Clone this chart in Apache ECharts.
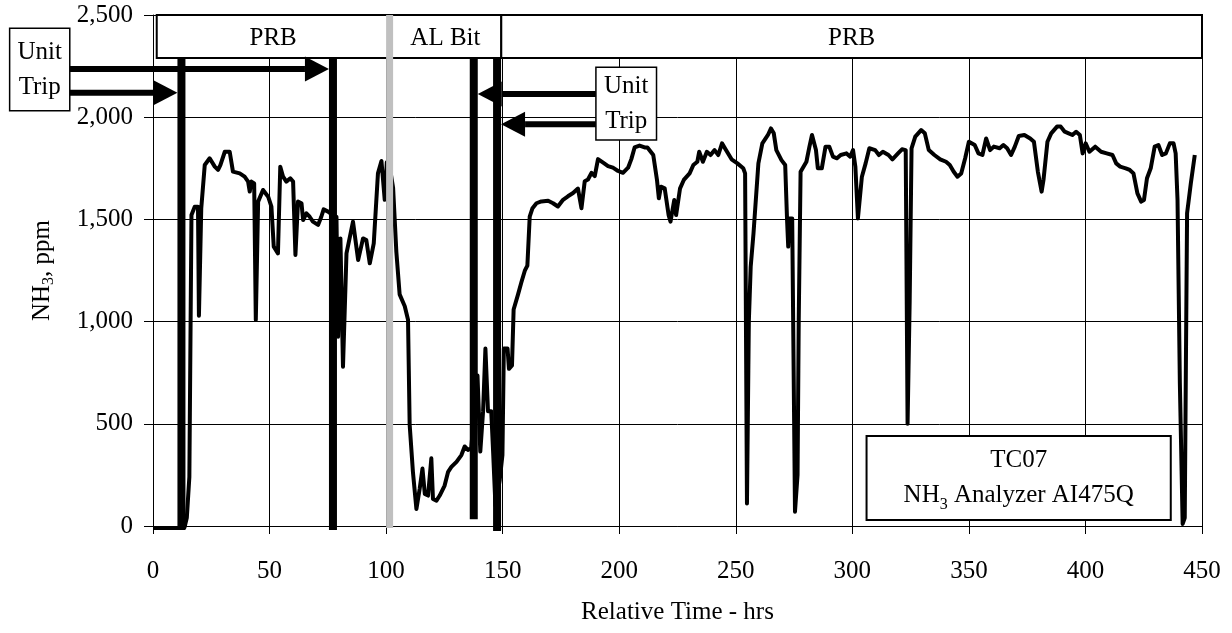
<!DOCTYPE html>
<html>
<head>
<meta charset="utf-8">
<script src="https://cdn.jsdelivr.net/npm/echarts@6/dist/echarts.min.js"></script>
<style>
  html, body { margin: 0; padding: 0; background: #fff; }
  #chart { width: 1232px; height: 633px; }
</style>
</head>
<body>
<div id="chart"></div>
<script>
// NH3 analyzer record, TC07 (hours vs ppm)
const hours = [
  0, 3, 6, 9, 12, 13.5, 14.5, 15.6, 16.5, 17.9, 19.3, 19.7, 20.7, 22.2, 24.3, 26.5, 27.9, 28.9, 30.8, 32.9,
  34.3, 37.2, 39.3, 40.8, 41.5, 42.2, 43.4, 44.1, 45.1, 47.2, 49.4, 50.8, 51.8, 53.6, 54.6, 55.8, 57.2, 58.9, 60.1, 61.1,
  62.2, 63.7, 64.4, 65.8, 67.2, 68.6, 70.8, 72.2, 73.2, 75.1, 77.0, 78.7, 79.4, 80.4, 81.5, 83.0, 85.8, 88.0, 90.1, 91.5,
  93.0, 94.7, 96.5, 98.0, 99.4, 100.3, 101.5, 103.0, 104.4, 105.8, 108.0, 109.4, 110.1, 111.5, 113.0, 114.4, 115.6, 116.6, 118.0, 119.4,
  120.1, 121.6, 123.0, 125.1, 126.6, 128.0, 130.2, 132.3, 133.7, 135.1, 136.5, 139.2, 140.4, 141.6, 142.6, 143.7, 145.1, 145.9, 146.9, 148.7,
  149.9, 150.5, 152.1, 152.7, 154.0, 154.7, 156.6, 158.0, 159.5, 160.6, 161.6, 162.8, 164.5, 166.6, 169.5, 171.6, 173.7, 175.9, 178.0, 180.2,
  182.3, 183.8, 185.2, 186.6, 188.1, 189.5, 190.9, 193.1, 195.2, 197.3, 199.5, 201.6, 203.8, 205.2, 206.6, 208.7, 210.9, 212.1, 214.6, 216.2,
  217.0, 217.9, 219.5, 221.2, 222.0, 223.6, 224.4, 226.1, 227.7, 230.2, 231.8, 233.5, 234.3, 235.9, 237.6, 239.2, 240.9, 242.5, 244.1, 245.8,
  248.2, 250.7, 253.2, 254.0, 254.8, 255.6, 256.4, 257.6, 258.6, 259.7, 261.4, 263.8, 265.1, 266.3, 267.4, 269.6, 271.2, 272.0, 272.5, 273.0,
  274.2, 275.4, 276.5, 277.0, 277.8, 280.3, 281.6, 282.7, 284.4, 285.2, 286.9, 288.5, 290.1, 291.7, 293.4, 295.0, 297.5, 299.1, 300.3, 301.3,
  302.4, 304.1, 305.7, 307.3, 309.8, 311.4, 313.1, 315.5, 317.2, 319.6, 321.3, 322.9, 323.7, 324.6, 325.4, 327.0, 329.5, 331.1, 332.8, 335.2,
  337.7, 340.2, 341.8, 343.5, 345.1, 346.7, 348.4, 350.0, 352.5, 354.1, 355.8, 357.4, 359.1, 360.7, 363.2, 364.8, 366.4, 368.1, 369.7, 371.4,
  373.8, 376.3, 377.9, 379.6, 381.2, 382.0, 383.7, 385.3, 387.8, 389.4, 391.1, 392.8, 394.4, 396.0, 397.6, 398.8, 400.1, 401.7, 404.2, 406.7,
  409.1, 411.6, 413.2, 414.9, 417.3, 419.0, 420.6, 422.3, 423.9, 425.1, 426.4, 428.0, 429.7, 431.3, 432.9, 434.5, 436.2, 437.8, 438.7, 439.5,
  440.5, 441.7, 442.6, 443.1, 443.6, 445.2, 446.9
];
const nh3 = [
  -10, -10, -10, -10, -10, -8, 40, 240, 1522, 1562, 1562, 1029, 1554, 1766, 1799, 1758, 1742, 1766, 1831, 1831,
  1734, 1725, 1709, 1685, 1636, 1685, 1676, 1008, 1587, 1644, 1611, 1562, 1367, 1334, 1758, 1709, 1685, 1701, 1685, 1326,
  1587, 1579, 1497, 1530, 1513, 1489, 1473, 1513, 1549, 1538, 1522, 1513, 926, 1407, 779, 1334, 1489, 1301, 1407, 1399,
  1285, 1383, 1725, 1786, 1596, 1780, 1760, 1654, 1340, 1133, 1075, 1009, 496, 265, 83, 182, 281, 157, 149, 331,
  132, 124, 149, 198, 265, 289, 314, 347, 389, 372, 380, 736, 364, 562, 868, 562, 562, 364, 99, 223,
  347, 868, 868, 769, 786, 1059, 1133, 1191, 1249, 1274, 1513, 1555, 1579, 1588, 1591, 1579, 1563, 1596, 1613, 1629,
  1651, 1555, 1687, 1695, 1728, 1712, 1795, 1778, 1761, 1753, 1737, 1728, 1753, 1795, 1852, 1861, 1852, 1852, 1815, 1693,
  1603, 1660, 1652, 1521, 1489, 1595, 1521, 1652, 1693, 1725, 1766, 1782, 1831, 1782, 1831, 1815, 1839, 1815, 1872, 1839,
  1794, 1774, 1750, 1725, 110, 1000, 1269, 1432, 1595, 1774, 1872, 1913, 1945, 1921, 1839, 1790, 1766, 1497, 1367, 1505,
  1505, 70, 250, 1000, 1733, 1782, 1856, 1913, 1839, 1750, 1750, 1856, 1856, 1807, 1799, 1815, 1823, 1807, 1839, 1758,
  1505, 1709, 1774, 1848, 1839, 1815, 1831, 1815, 1794, 1823, 1843, 1839, 500, 1100, 1848, 1905, 1937, 1921, 1839, 1815,
  1794, 1782, 1766, 1733, 1709, 1725, 1799, 1880, 1864, 1823, 1815, 1896, 1839, 1856, 1848, 1864, 1848, 1815, 1856, 1908,
  1913, 1896, 1880, 1733, 1636, 1693, 1880, 1921, 1954, 1954, 1929, 1921, 1913, 1929, 1913, 1823, 1872, 1831, 1856, 1831,
  1823, 1815, 1774, 1758, 1750, 1742, 1725, 1627, 1587, 1595, 1701, 1750, 1856, 1864, 1815, 1823, 1872, 1872, 1823, 1595,
  700, 10, 40, 800, 1530, 1676, 1815
];

// Unit trip events: time and vertical extent of each marker
const tripTimes = [12.2, 77.2, 137.6, 147.6];
const tripLow = [-20, -20, 33, -25];
const tripHigh = [2290, 2290, 2290, 2290];

// Fuel switch marker
const switchTime = [101.5];

// Fuel periods shown along the top
const bandLabels = ['PRB', 'AL Bit', 'PRB'];
const bandStart = [1.6, 101.5, 149.4];
const bandEnd = [101.5, 149.4, 450];

// Axis ranges
const xRange = [0, 450, 50];
const yRange = [0, 2500, 500];

const FONT = 'Liberation Serif';
const BAND_LOW = 2290;

const chart = echarts.init(document.getElementById('chart'), null, { renderer: 'canvas' });

const series = [];
series.push({
  type: 'line',
  data: hours.map((h, i) => [h, nh3[i]]),
  showSymbol: false,
  symbol: 'none',
  clip: false,
  z: 2,
  lineStyle: { color: '#000', width: 4, join: 'round' },
  silent: true,
  markArea: {
    silent: true,
    itemStyle: { color: '#fff', borderColor: '#000', borderWidth: 2, opacity: 1 },
    label: { show: true, position: 'inside', offset: [0, 2], color: '#000', fontFamily: FONT, fontSize: 25 },
    emphasis: { disabled: true },
    data: bandLabels.map((name, i) => [
      { name: name, xAxis: bandStart[i], yAxis: BAND_LOW },
      { xAxis: bandEnd[i], yAxis: yRange[1] }
    ])
  }
});
switchTime.forEach(t => {
  series.push({
    type: 'line',
    data: [[t, yRange[1]], [t, -10]],
    symbol: 'none',
    clip: false,
    z: 4,
    silent: true,
    lineStyle: { color: '#c0c0c0', width: 7, cap: 'butt' }
  });
});
tripTimes.forEach((t, i) => {
  series.push({
    type: 'line',
    data: [[t, tripHigh[i]], [t, tripLow[i]]],
    symbol: 'none',
    clip: false,
    z: 5,
    silent: true,
    lineStyle: { color: '#000', width: 8, cap: 'butt' }
  });
});

const option = {
  animation: false,
  backgroundColor: '#fff',
  grid: { left: 153, right: 30, top: 15, bottom: 107, containLabel: false },
  xAxis: {
    type: 'value',
    min: xRange[0], max: xRange[1], interval: xRange[2],
    name: 'Relative Time - hrs',
    nameLocation: 'middle',
    nameGap: 74,
    nameTextStyle: { color: '#000', fontFamily: FONT, fontSize: 25 },
    axisLine: { show: true, lineStyle: { color: '#000', width: 1 } },
    axisTick: { show: true, length: 8, lineStyle: { color: '#000' } },
    axisLabel: { color: '#000', fontFamily: FONT, fontSize: 25, margin: 33 },
    splitLine: { show: true, lineStyle: { color: '#000', width: 1 } }
  },
  yAxis: {
    type: 'value',
    min: yRange[0], max: yRange[1], interval: yRange[2],
    name: '{m|NH}{s|3}{m|, ppm}',
    nameLocation: 'middle',
    nameRotate: 90,
    nameGap: 96,
    nameTextStyle: {
      color: '#000',
      rich: {
        m: { fontFamily: FONT, fontSize: 25, color: '#000', lineHeight: 30 },
        s: { fontFamily: FONT, fontSize: 16, color: '#000', verticalAlign: 'bottom', lineHeight: 18 }
      }
    },
    axisLine: { show: true, lineStyle: { color: '#000', width: 1 } },
    axisTick: { show: true, length: 9, lineStyle: { color: '#000' } },
    axisLabel: {
      color: '#000', fontFamily: FONT, fontSize: 25, margin: 20,
      formatter: v => v.toLocaleString('en-US')
    },
    splitLine: { show: true, lineStyle: { color: '#000', width: 1 } }
  },
  series: series
};
chart.setOption(option);

// Annotations placed in data units
const toPx = (x, y) => chart.convertToPixel({ gridIndex: 0 }, [x, y]);
const HALF_TRIP = 4;

function boxWithText(x0, y0, x1, y1, text, rich, lw) {
  const a = toPx(x0, y0), b = toPx(x1, y1);
  const left = Math.min(a[0], b[0]), top = Math.min(a[1], b[1]);
  const w = Math.abs(b[0] - a[0]), h = Math.abs(b[1] - a[1]);
  return [
    { type: 'rect', z: 10, shape: { x: left, y: top, width: w, height: h },
      style: { fill: '#fff', stroke: '#000', lineWidth: lw } },
    { type: 'text', z: 11, x: left + w / 2, y: top + h / 2,
      style: { text: text, rich: rich, align: 'center', verticalAlign: 'middle',
               fill: '#000', font: '25px "' + FONT + '"' } }
  ];
}

function arrow(xStartPx, yVal, tipPx) {
  const y = toPx(0, yVal)[1];
  const dir = tipPx > xStartPx ? 1 : -1;
  const headLen = 24, headHalf = 12.5, shaft = 6;
  const base = tipPx - dir * headLen;
  return [
    { type: 'rect', z: 9, shape: { x: Math.min(xStartPx, base), y: y - shaft / 2, width: Math.abs(base - xStartPx), height: shaft },
      style: { fill: '#000' } },
    { type: 'polygon', z: 9, shape: { points: [[tipPx, y], [base, y - headHalf], [base, y + headHalf]] },
      style: { fill: '#000' } }
  ];
}

const richBox = {
  m: { fontFamily: FONT, fontSize: 25, lineHeight: 35, fill: '#000' },
  s: { fontFamily: FONT, fontSize: 16, lineHeight: 35, verticalAlign: 'bottom', fill: '#000' }
};

const g = [];
// left trip label and arrows
const leftBox = boxWithText(-61.5, 2435, -35.7, 2032, '{m|Unit}\n{m|Trip}', richBox, 1.5);
const leftEdge = toPx(-35.7, 0)[0];
g.push(...arrow(leftEdge, 2236, toPx(tripTimes[1], 0)[0] - HALF_TRIP));
g.push(...arrow(leftEdge, 2120, toPx(tripTimes[0], 0)[0] - HALF_TRIP));
g.push(...leftBox);
// right trip label and arrows
const rightBox = boxWithText(190.0, 2244, 216.0, 1888, '{m|Unit}\n{m|Trip}', richBox, 1.5);
const rightEdge = toPx(190.0, 0)[0];
g.push(...arrow(rightEdge, 2113, toPx(tripTimes[2], 0)[0] + HALF_TRIP));
g.push(...arrow(rightEdge, 1965, toPx(tripTimes[3], 0)[0] + HALF_TRIP));
g.push(...rightBox);
// analyzer caption
g.push(...boxWithText(306.1, 440, 436.6, 29, '{m|TC07}\n{m|NH}{s|3}{m| Analyzer AI475Q}', richBox, 2));

chart.setOption({ graphic: g });
</script>
</body>
</html>
